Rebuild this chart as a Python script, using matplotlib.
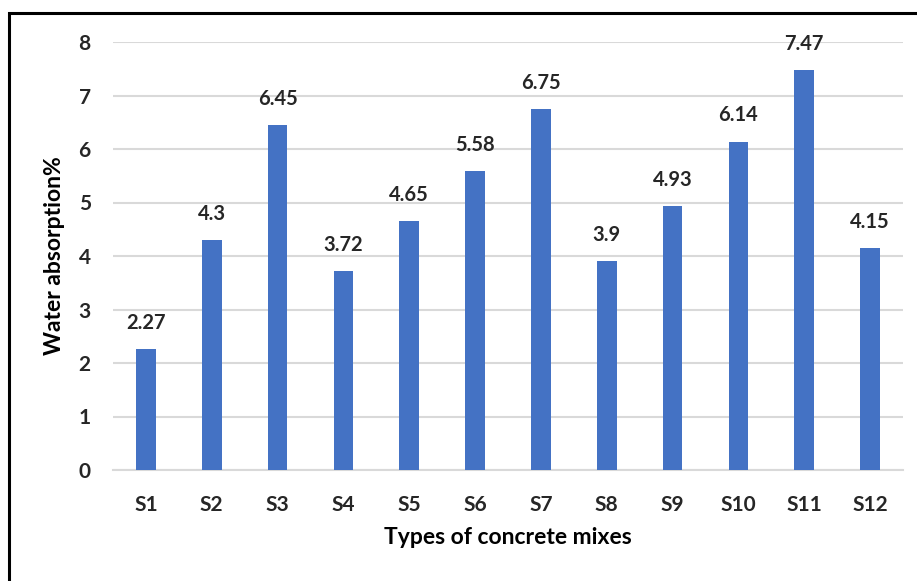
import matplotlib
matplotlib.use('Agg')
import matplotlib.pyplot as plt
from matplotlib.patches import Rectangle

# water absorption of each mix
mixes = ['S1', 'S2', 'S3', 'S4', 'S5', 'S6', 'S7', 'S8', 'S9', 'S10', 'S11', 'S12']
absorption = [2.27, 4.3, 6.45, 3.72, 4.65, 5.58, 6.75, 3.9, 4.93, 6.14, 7.47, 4.15]
y_ticks = [0, 1, 2, 3, 4, 5, 6, 7, 8]

plt.rcParams['font.family'] = ['Lato', 'DejaVu Sans']
plt.rcParams['font.weight'] = 'bold'

fig = plt.figure(figsize=(9.17, 5.81), dpi=100)
ax = fig.add_axes([113 / 917, 1 - 470 / 581, 790 / 917, 428 / 581])

x = range(len(mixes))
bars = ax.bar(x, absorption, width=0.3, color='#4472C4', zorder=3)
for b, v in zip(bars, absorption):
    ax.text(b.get_x() + b.get_width() / 2, v + 0.3, f'{v:g}', ha='center', va='bottom',
            fontsize=14.5, fontweight='bold', color='#262626')

ax.set_xlim(-0.5, len(mixes) - 0.5)
ax.set_ylim(0, 8)
ax.set_yticks(y_ticks)
ax.set_xticks(list(x))
ax.set_xticklabels(mixes)
ax.tick_params(axis='both', length=0, labelsize=15, colors='#262626')
ax.tick_params(axis='y', pad=16)
ax.tick_params(axis='x', pad=18)
ax.grid(axis='y', color='#d9d9d9', linewidth=1.5, zorder=0)
for s in ['top', 'right', 'left']:
    ax.spines[s].set_visible(False)
ax.spines['bottom'].set_color('#d9d9d9')
ax.spines['bottom'].set_linewidth(1.5)

ax.set_xlabel('Types of concrete mixes', fontsize=16.5, fontweight='bold', labelpad=9)
ax.set_ylabel('Water absorption%', fontsize=16.5, fontweight='bold', labelpad=10)

# outer frame
fig.patches.append(Rectangle((9 / 917, -0.05), 1.1, 1 - 13 / 581 + 0.05, transform=fig.transFigure,
                             fill=False, edgecolor='black', linewidth=2.2))

fig.savefig('out.png', dpi=100)
